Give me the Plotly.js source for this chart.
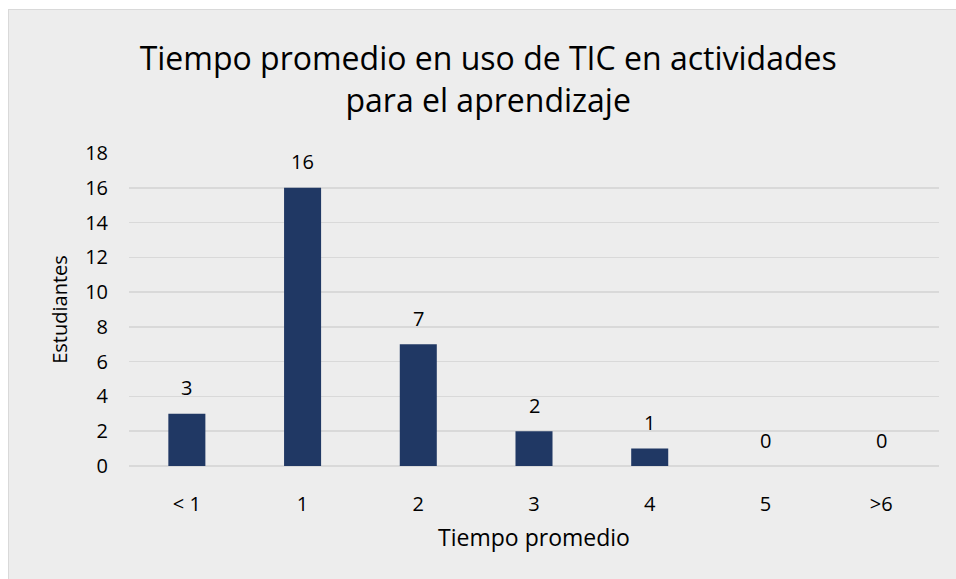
<!DOCTYPE html>
<html>
<head>
<meta charset="utf-8">
<script src="https://cdn.plot.ly/plotly-3.0.1.min.js"></script>
<style>
  html, body { margin: 0; padding: 0; background: #ffffff; width: 956px; height: 579px; overflow: hidden; }
  #chart { position: absolute; left: 8px; top: 9px; width: 947px; height: 569px;
           border-left: 1px solid #D9D9D9; border-top: 1px solid #D9D9D9; background: #EDEDED; }
</style>
</head>
<body>
<div id="chart"></div>
<script>
const categories = ["< 1", "1", "2", "3", "4", "5", ">6"];
const students = [3, 16, 7, 2, 1, 0, 0];
const yTicks = [0, 2, 4, 6, 8, 10, 12, 14, 16, 18];

const FONT = "'Open Sans', 'Noto Sans', sans-serif";

const trace = {
  type: "bar",
  x: categories,
  y: students,
  marker: { color: "#203864", line: { color: "#203864", width: 0 } },
  hoverinfo: "x+y"
};

const labels = categories.map((c, i) => ({
  x: c, y: students[i], xref: "x", yref: "y",
  text: String(students[i]), showarrow: false,
  yanchor: "middle", yshift: 26,
  font: { family: FONT, size: 20, color: "#000000" }
}));

const layout = {
  width: 947, height: 569,
  margin: { l: 120, r: 17, t: 143, b: 113, pad: 0 },
  paper_bgcolor: "#EDEDED",
  plot_bgcolor: "#EDEDED",
  bargap: 0.68,
  showlegend: false,
  font: { family: FONT, color: "#000000" },
  title: {
    text: "Tiempo promedio en uso de TIC en actividades<br>para el aprendizaje",
    font: { family: FONT, size: 32, color: "#000000" },
    x: 0.506, xref: "container", xanchor: "center",
    y: 0.894, yref: "container", yanchor: "middle"
  },
  xaxis: {
    type: "category",
    tickfont: { family: FONT, size: 20, color: "#000000" },
    showgrid: false, zeroline: false, showline: false,
    ticks: "", ticklabelstandoff: 24,
    title: { text: "Tiempo promedio", font: { family: FONT, size: 23, color: "#000000" }, standoff: 13 },
    automargin: false, fixedrange: true
  },
  yaxis: {
    range: [0, 18],
    tickvals: yTicks,
    tickfont: { family: FONT, size: 20, color: "#000000" },
    showgrid: true, gridcolor: "#D9D9D9", gridwidth: 1.5,
    zeroline: true, zerolinecolor: "#D9D9D9", zerolinewidth: 1.5,
    showline: false, ticks: "", ticklabelstandoff: 20,
    title: { text: "Estudiantes", font: { family: FONT, size: 20, color: "#000000" }, standoff: 12 },
    automargin: false, fixedrange: true
  },
  annotations: labels
};

Plotly.newPlot("chart", [trace], layout, { displayModeBar: false, staticPlot: true });
</script>
</body>
</html>
